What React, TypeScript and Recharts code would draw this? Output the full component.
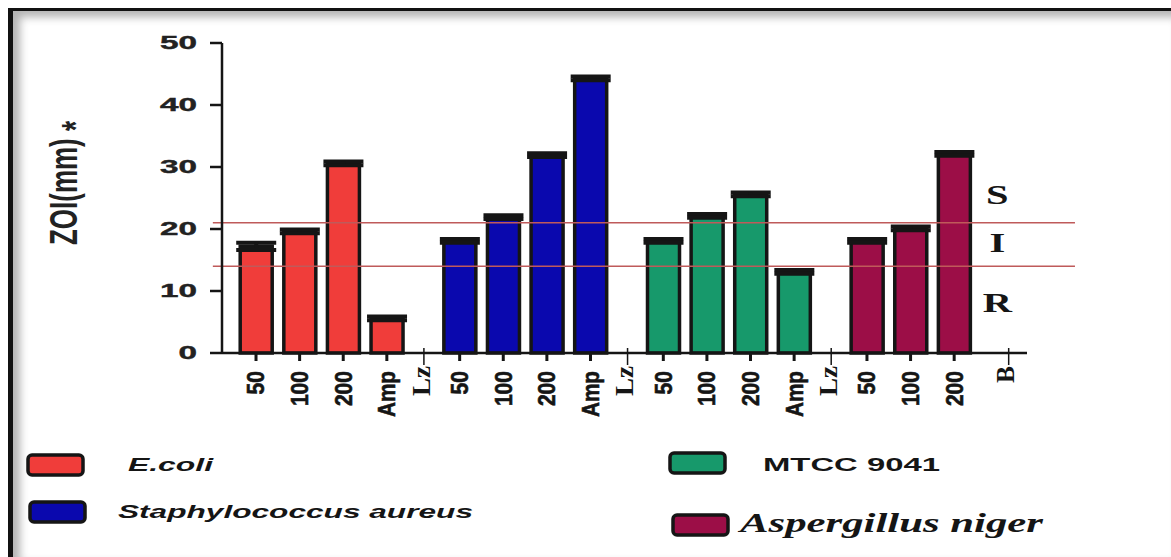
import { BarChart, Bar, XAxis, YAxis, Cell, ErrorBar, ReferenceLine, ReferenceDot } from "recharts";

// dose labels under each bar
const DOSES = ["50", "100", "200", "Amp"];
const SPECIES = ["E.coli", "Staphylococcus aureus", "MTCC 9041", "Aspergillus niger"];
const SPECIES_COLORS = ["#f03d3a", "#0a08ae", "#17996b", "#9c0e47"];

const ecoliValues = [17.2, 19.6, 30.6, 5.6];
const ecoliErrors = [0.6, 0.3, 0.3, 0.3];
const aureusValues = [18.1, 21.9, 31.9, 44.3];
const aureusErrors = [0.3, 0.3, 0.3, 0.3];
const mtccValues = [18.1, 22.1, 25.6, 13.1];
const mtccErrors = [0.3, 0.3, 0.3, 0.3];
const nigerValues = [18.1, 20.1, 32.1];
const nigerErrors = [0.3, 0.3, 0.3];

const SEPARATORS = ["Lz", "Lz", "Lz", "B"];
const Y_TICKS = [0, 10, 20, 30, 40, 50];
const CUTOFFS = [21, 14];
const ZONES = [
  { label: "S", y: 25.5 },
  { label: "I", y: 17.8 },
  { label: "R", y: 8.2 },
];

// layout (slot units on the x axis)
const PITCH = 4.67;
const LZ_OFFSET = 3.85;
const B_OFFSET = 3.25;
const X_MIN = -0.78;
const X_MAX = 17.68;
const ZONE_X = 17.0;

const seriesValues = [ecoliValues, aureusValues, mtccValues, nigerValues];
const seriesErrors = [ecoliErrors, aureusErrors, mtccErrors, nigerErrors];

const rows = seriesValues.flatMap((vals, g) =>
  vals.map((v, i) => ({ x: g * PITCH + i, value: v, err: seriesErrors[g][i], group: g, label: DOSES[i] }))
);
const sepTicks = SEPARATORS.map((s, g) => ({ x: g * PITCH + (s === "B" ? B_OFFSET : LZ_OFFSET), label: s }));

const key = (v: number) => v.toFixed(3);
const tickInfo = new Map<string, { label: string; kind: string }>();
rows.forEach((r) => tickInfo.set(key(r.x), { label: r.label, kind: "bar" }));
sepTicks.forEach((s) => tickInfo.set(key(s.x), { label: s.label, kind: "sep" }));
const xTicks = [...rows.map((r) => r.x), ...sepTicks.map((s) => s.x)].sort((a, b) => a - b);

const SANS = "'Liberation Sans', Arial, sans-serif";
const SERIF = "'Liberation Serif', 'Times New Roman', serif";
const INK = "#151515";

const XTick = ({ x, y, payload }: any) => {
  const info = tickInfo.get(key(payload.value));
  if (!info) return null;
  if (info.kind === "bar") {
    const len = info.label === "Amp" ? 46 : info.label.length * 11.7;
    return (
      <g>
        <line x1={x} x2={x} y1={y} y2={y + 8} stroke={INK} strokeWidth={3} />
        <g transform={`translate(${x},${y + 18}) rotate(-90) scale(1,1.5)`}>
          <text textAnchor="end" dy="0.35em" fontFamily={SANS} fontWeight="bold" fontSize={16}
            textLength={len} lengthAdjust="spacingAndGlyphs" fill={INK} stroke={INK} strokeWidth={0.4}>
            {info.label}
          </text>
        </g>
      </g>
    );
  }
  return (
    <g>
      <line x1={x} x2={x} y1={y - 5} y2={y + 12} stroke={INK} strokeWidth={1.5} />
      <g transform={`translate(${x - 3},${y + 13}) rotate(-90) scale(1,1.3)`}>
        <text textAnchor="end" dy="0.35em" fontFamily={SERIF} fontWeight="bold" fontSize={19}
          textLength={info.label === "B" ? 17 : 30} lengthAdjust="spacingAndGlyphs" fill={INK}>
          {info.label}
        </text>
      </g>
    </g>
  );
};

const YTick = ({ x, y, payload }: any) => {
  const s = String(payload.value);
  return (
    <text x={x} y={y} dy="0.36em" textAnchor="end" fontFamily={SANS} fontWeight="bold" fontSize={18}
      textLength={s.length * 18.5} lengthAdjust="spacingAndGlyphs" fill="#222" stroke="#222" strokeWidth={0.4}>
      {s}
    </text>
  );
};

const YLabel = ({ viewBox }: any) => (
  <g transform={`translate(${viewBox.x - 99},${viewBox.y + 140}) scale(1.5,1) rotate(-90)`}>
    <text textAnchor="middle" dy="0.35em" fontFamily={SANS} fontWeight="bold" fontSize={26} fill="#222">
      ZOI(mm) <tspan dy="8">*</tspan>
    </text>
  </g>
);

const zoneLabel = (text: string) => ({ viewBox }: any) => {
  const cx = viewBox.x + (viewBox.width || 0) / 2;
  const cy = viewBox.y + (viewBox.height || 0) / 2;
  return (
    <g transform={`translate(${cx},${cy}) scale(1.5,1)`}>
      <text textAnchor="middle" dy="0.35em" fontFamily={SERIF} fontWeight="bold" fontSize={27} fill={INK}>
        {text}
      </text>
    </g>
  );
};

const LEGEND_POS = [
  { sx: 28, sy: 455, tx: 128, ty: 471, len: 85, font: SANS, size: 18, italic: true },
  { sx: 30, sy: 502, tx: 118, ty: 518, len: 355, font: SANS, size: 18, italic: true },
  { sx: 670, sy: 453, tx: 763, ty: 471, len: 177, font: SANS, size: 18, italic: false },
  { sx: 673, sy: 515, tx: 740, ty: 532, len: 303, font: SERIF, size: 27, italic: true },
];

export default function App() {
  return (
    <div style={{ position: "absolute", left: 0, top: 0, width: 1171, height: 557, background: "#fff", overflow: "hidden" }}>
      <div
        style={{
          position: "absolute", left: 8, top: 8, width: 1163, height: 549, boxSizing: "border-box",
          borderTop: "3px solid #111", borderLeft: "5px solid #111",
          boxShadow: "inset 7px 6px 8px rgba(0,0,0,0.3)",
        }}
      />
      <div style={{ position: "absolute", left: 0, top: 0 }}>
        <BarChart width={1171} height={557} data={rows} margin={{ top: 43, right: 144, left: 162, bottom: 114 }}>
          <XAxis
            dataKey="x"
            type="number"
            domain={[X_MIN, X_MAX]}
            ticks={xTicks}
            interval={0}
            allowDataOverflow
            height={90}
            tickSize={0}
            tickMargin={0}
            tickLine={false}
            axisLine={{ stroke: INK, strokeWidth: 2.5 }}
            tick={<XTick />}
          />
          <YAxis
            type="number"
            domain={[0, 50]}
            ticks={Y_TICKS}
            width={60}
            tickSize={12}
            tickMargin={13}
            tickLine={{ stroke: INK, strokeWidth: 2.5 }}
            axisLine={{ stroke: INK, strokeWidth: 2.5 }}
            tick={<YTick />}
            label={{ content: <YLabel /> } as any}
          />
          <Bar dataKey="value" barSize={32} stroke={INK} strokeWidth={3.5} isAnimationActive={false}>
            {rows.map((r, i) => (
              <Cell key={i} fill={SPECIES_COLORS[r.group]} />
            ))}
            <ErrorBar dataKey="err" width={20} stroke={INK} strokeWidth={4} direction="y" isAnimationActive={false} />
          </Bar>
          {CUTOFFS.map((c) => (
            <ReferenceLine
              key={c}
              segment={[{ x: -0.99, y: c }, { x: 18.78, y: c }]}
              stroke="#bf5a5a"
              strokeWidth={1.5}
              ifOverflow="visible"
            />
          ))}
          {ZONES.map((z) => (
            <ReferenceDot key={z.label} x={ZONE_X} y={z.y} r={0} fill="none" stroke="none" ifOverflow="visible"
              label={{ content: zoneLabel(z.label) } as any} />
          ))}
        </BarChart>
      </div>
      <svg width={1171} height={557} style={{ position: "absolute", left: 0, top: 0, pointerEvents: "none" }}>
        {SPECIES.map((name, i) => {
          const p = LEGEND_POS[i];
          return (
            <g key={name}>
              <rect x={p.sx} y={p.sy} width={55} height={20} rx={4} fill={SPECIES_COLORS[i]} stroke={INK} strokeWidth={3.5} />
              <text x={p.tx} y={p.ty} fontFamily={p.font} fontWeight="bold" fontStyle={p.italic ? "italic" : "normal"}
                fontSize={p.size} textLength={p.len} lengthAdjust="spacingAndGlyphs" fill={INK}>
                {name}
              </text>
            </g>
          );
        })}
      </svg>
    </div>
  );
}
